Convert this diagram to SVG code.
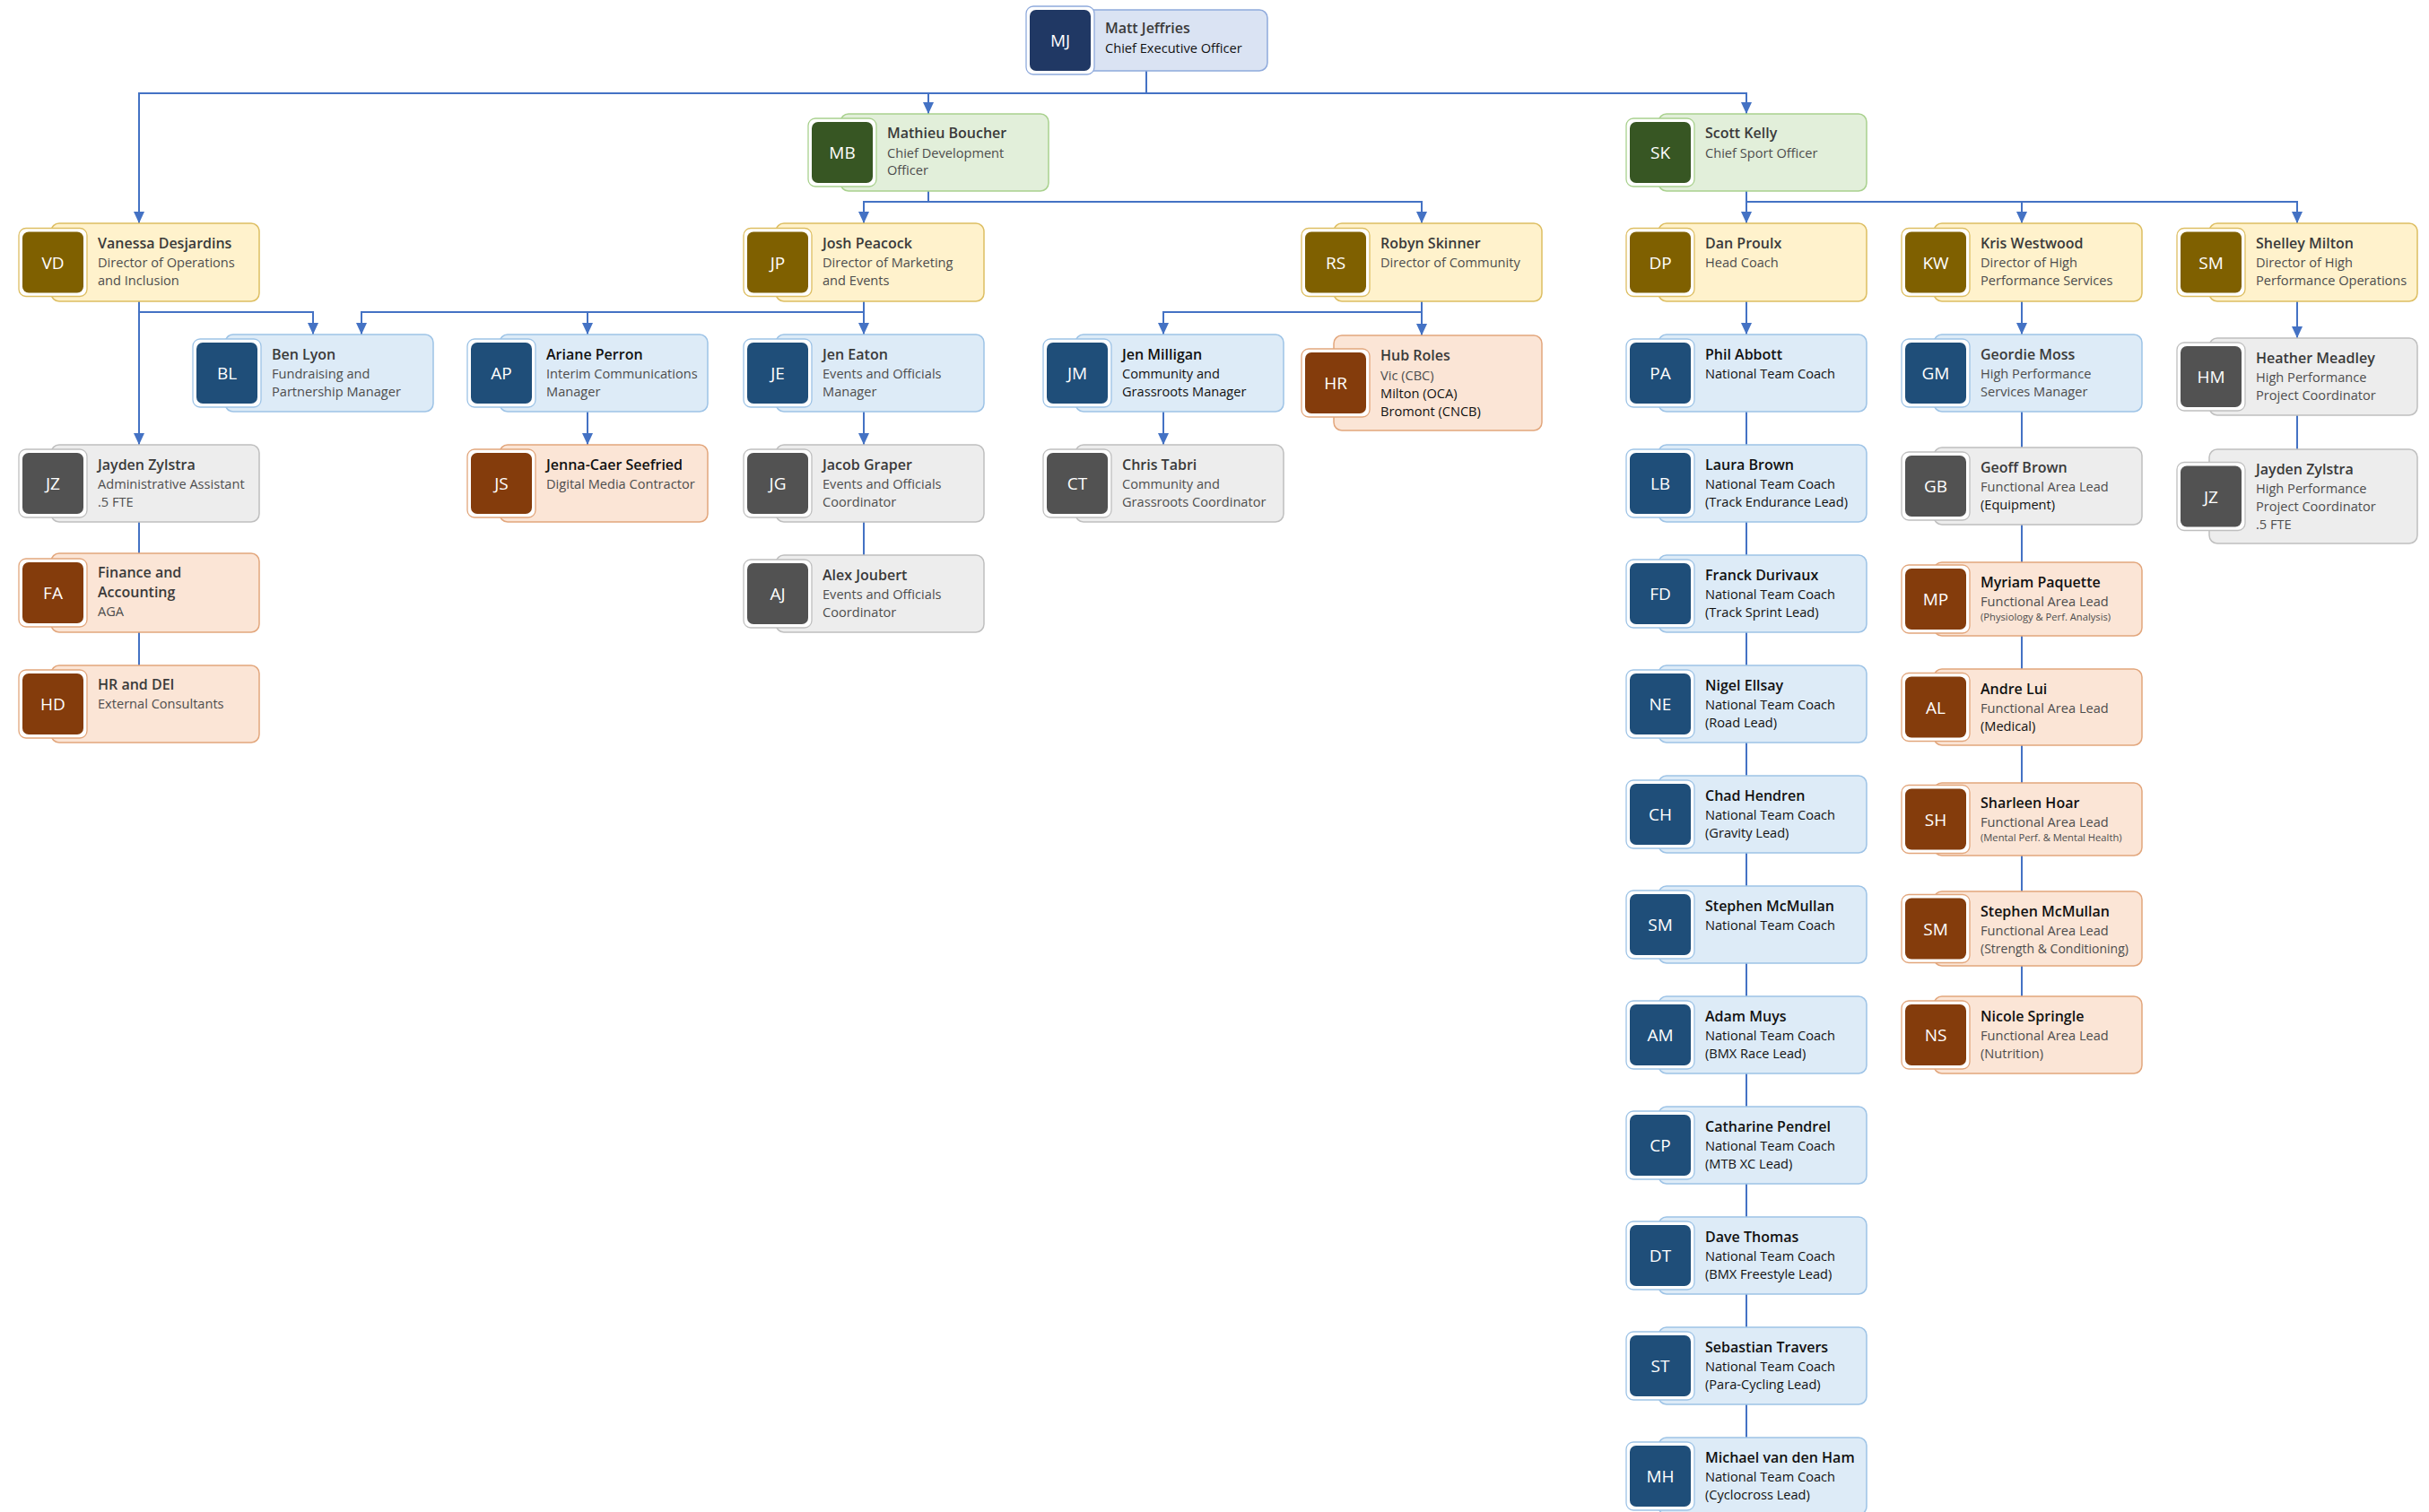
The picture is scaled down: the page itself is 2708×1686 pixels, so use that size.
<svg xmlns="http://www.w3.org/2000/svg" width="2708" height="1686" viewBox="0 0 2708 1686">
<style>
text{font-family:'Open Sans','Noto Sans','Liberation Sans',sans-serif}
.nm{font-size:16px;font-weight:600;fill:#3a3a3a}
.sb{font-size:14.6px;fill:#4d4d4d}
.sm{font-size:11.2px;fill:#4d4d4d}
.dk{fill:#111}
.in{font-size:19px;fill:#fff;text-anchor:middle}
.cd{stroke-width:1.5}
.fr{fill:#fff;stroke-width:1.3}
.ceo .cd{fill:#DAE3F3;stroke:#8FAADC}.ceo .fr{stroke:#8FAADC}.ceo .av{fill:#203864}
.grn .cd{fill:#E2EFDA;stroke:#A9D18E}.grn .fr{stroke:#A9D18E}.grn .av{fill:#375623}
.yel .cd{fill:#FFF2CC;stroke:#DDBE62}.yel .fr{stroke:#DDBE62}.yel .av{fill:#7F6000}
.blu .cd{fill:#DDEBF7;stroke:#9DC3E6}.blu .fr{stroke:#9DC3E6}.blu .av{fill:#1F4E79}
.gry .cd{fill:#EDEDED;stroke:#BFBFBF}.gry .fr{stroke:#BFBFBF}.gry .av{fill:#525252}
.org .cd{fill:#FBE5D6;stroke:#E2A67C}.org .fr{stroke:#E2A67C}.org .av{fill:#843C0C}
.cn{fill:none;stroke:#4472C4;stroke-width:2}
.ar{marker-end:url(#arr)}
</style>
<defs>
<marker id="arr" viewBox="0 0 13 12" refX="13" refY="6" markerWidth="13" markerHeight="12" markerUnits="userSpaceOnUse" orient="auto"><path d="M0,0 L13,6 L0,12 z" fill="#4472C4"/></marker>
</defs>
<rect width="2708" height="1686" fill="#fff"/>
<g id="connectors">
<path class="cn ar" d="M1278,79 V104 H155 V249"/>
<path class="cn ar" d="M1278,104 H1035 V127"/>
<path class="cn ar" d="M1278,104 H1947 V127"/>
<path class="cn ar" d="M1035,213 V225 H963 V249"/>
<path class="cn ar" d="M1035,225 H1585 V249"/>
<path class="cn ar" d="M1947,213 V249"/>
<path class="cn ar" d="M1947,225 H2254 V249"/>
<path class="cn ar" d="M1947,225 H2561 V249"/>
<path class="cn ar" d="M155,336 V496"/>
<path class="cn ar" d="M155,348 H349 V373"/>
<path class="cn ar" d="M963,336 V373"/>
<path class="cn ar" d="M963,348 H403 V373"/>
<path class="cn ar" d="M655,348 V373"/>
<path class="cn ar" d="M1585,336 V374"/>
<path class="cn ar" d="M1585,348 H1297 V373"/>
<path class="cn ar" d="M655,459 V496"/>
<path class="cn ar" d="M963,459 V496"/>
<path class="cn" d="M963,582 V619"/>
<path class="cn ar" d="M1297,459 V496"/>
<path class="cn" d="M155,582 V742"/>
<path class="cn ar" d="M1947,336 V373"/>
<path class="cn" d="M1947,459 V1603"/>
<path class="cn ar" d="M2254,336 V373"/>
<path class="cn" d="M2254,459 V1111"/>
<path class="cn ar" d="M2561,336 V377"/>
<path class="cn" d="M2561,463 V501"/>
</g>

<g id="n-mj" class="ceo" transform="translate(1144,11)">
<rect class="cd" x="36" y="0" width="233" height="68" rx="9"/>
<rect class="fr" x="0" y="-4" width="76" height="76" rx="8"/>
<rect class="av" x="4" y="0" width="68" height="68" rx="7"/>
<text class="in" x="38" y="41">MJ</text>
<text class="nm" x="88" y="26">Matt Jeffries</text>
<text class="sb dk" x="88" y="48">Chief Executive Officer</text>
</g>

<g id="n-mb" class="grn" transform="translate(901,127)">
<rect class="cd" x="36" y="0" width="232" height="86" rx="9"/>
<rect class="fr" x="0" y="5" width="76" height="76" rx="8"/>
<rect class="av" x="4" y="9" width="68" height="68" rx="7"/>
<text class="in" x="38" y="50">MB</text>
<text class="nm" x="88" y="27">Mathieu Boucher</text>
<text class="sb" x="88" y="49">Chief Development</text>
<text class="sb" x="88" y="68">Officer</text>
</g>

<g id="n-sk" class="grn" transform="translate(1813,127)">
<rect class="cd" x="36" y="0" width="232" height="86" rx="9"/>
<rect class="fr" x="0" y="5" width="76" height="76" rx="8"/>
<rect class="av" x="4" y="9" width="68" height="68" rx="7"/>
<text class="in" x="38" y="50">SK</text>
<text class="nm" x="88" y="27">Scott Kelly</text>
<text class="sb" x="88" y="49">Chief Sport Officer</text>
</g>

<g id="n-vd" class="yel" transform="translate(21,249)">
<rect class="cd" x="36" y="0" width="232" height="87" rx="9"/>
<rect class="fr" x="0" y="5.5" width="76" height="76" rx="8"/>
<rect class="av" x="4" y="9.5" width="68" height="68" rx="7"/>
<text class="in" x="38" y="50.5">VD</text>
<text class="nm" x="88" y="28">Vanessa Desjardins</text>
<text class="sb" x="88" y="49">Director of Operations</text>
<text class="sb" x="88" y="69">and Inclusion</text>
</g>

<g id="n-jp" class="yel" transform="translate(829,249)">
<rect class="cd" x="36" y="0" width="232" height="87" rx="9"/>
<rect class="fr" x="0" y="5.5" width="76" height="76" rx="8"/>
<rect class="av" x="4" y="9.5" width="68" height="68" rx="7"/>
<text class="in" x="38" y="50.5">JP</text>
<text class="nm" x="88" y="28">Josh Peacock</text>
<text class="sb" x="88" y="49">Director of Marketing</text>
<text class="sb" x="88" y="69">and Events</text>
</g>

<g id="n-rs" class="yel" transform="translate(1451,249)">
<rect class="cd" x="36" y="0" width="232" height="87" rx="9"/>
<rect class="fr" x="0" y="5.5" width="76" height="76" rx="8"/>
<rect class="av" x="4" y="9.5" width="68" height="68" rx="7"/>
<text class="in" x="38" y="50.5">RS</text>
<text class="nm" x="88" y="28">Robyn Skinner</text>
<text class="sb" x="88" y="49">Director of Community</text>
</g>

<g id="n-dp" class="yel" transform="translate(1813,249)">
<rect class="cd" x="36" y="0" width="232" height="87" rx="9"/>
<rect class="fr" x="0" y="5.5" width="76" height="76" rx="8"/>
<rect class="av" x="4" y="9.5" width="68" height="68" rx="7"/>
<text class="in" x="38" y="50.5">DP</text>
<text class="nm" x="88" y="28">Dan Proulx</text>
<text class="sb" x="88" y="49">Head Coach</text>
</g>

<g id="n-kw" class="yel" transform="translate(2120,249)">
<rect class="cd" x="36" y="0" width="232" height="87" rx="9"/>
<rect class="fr" x="0" y="5.5" width="76" height="76" rx="8"/>
<rect class="av" x="4" y="9.5" width="68" height="68" rx="7"/>
<text class="in" x="38" y="50.5">KW</text>
<text class="nm" x="88" y="28">Kris Westwood</text>
<text class="sb" x="88" y="49">Director of High</text>
<text class="sb" x="88" y="69">Performance Services</text>
</g>

<g id="n-sm-ops" class="yel" transform="translate(2427,249)">
<rect class="cd" x="36" y="0" width="232" height="87" rx="9"/>
<rect class="fr" x="0" y="5.5" width="76" height="76" rx="8"/>
<rect class="av" x="4" y="9.5" width="68" height="68" rx="7"/>
<text class="in" x="38" y="50.5">SM</text>
<text class="nm" x="88" y="28">Shelley Milton</text>
<text class="sb" x="88" y="49">Director of High</text>
<text class="sb" x="88" y="69">Performance Operations</text>
</g>

<g id="n-bl" class="blu" transform="translate(215,373)">
<rect class="cd" x="36" y="0" width="232" height="86" rx="9"/>
<rect class="fr" x="0" y="5" width="76" height="76" rx="8"/>
<rect class="av" x="4" y="9" width="68" height="68" rx="7"/>
<text class="in" x="38" y="50">BL</text>
<text class="nm" x="88" y="28">Ben Lyon</text>
<text class="sb" x="88" y="49">Fundraising and</text>
<text class="sb" x="88" y="69">Partnership Manager</text>
</g>

<g id="n-ap" class="blu" transform="translate(521,373)">
<rect class="cd" x="36" y="0" width="232" height="86" rx="9"/>
<rect class="fr" x="0" y="5" width="76" height="76" rx="8"/>
<rect class="av" x="4" y="9" width="68" height="68" rx="7"/>
<text class="in" x="38" y="50">AP</text>
<text class="nm dk" x="88" y="28">Ariane Perron</text>
<text class="sb" x="88" y="49">Interim Communications</text>
<text class="sb" x="88" y="69">Manager</text>
</g>

<g id="n-je" class="blu" transform="translate(829,373)">
<rect class="cd" x="36" y="0" width="232" height="86" rx="9"/>
<rect class="fr" x="0" y="5" width="76" height="76" rx="8"/>
<rect class="av" x="4" y="9" width="68" height="68" rx="7"/>
<text class="in" x="38" y="50">JE</text>
<text class="nm" x="88" y="28">Jen Eaton</text>
<text class="sb" x="88" y="49">Events and Officials</text>
<text class="sb" x="88" y="69">Manager</text>
</g>

<g id="n-jm" class="blu" transform="translate(1163,373)">
<rect class="cd" x="36" y="0" width="232" height="86" rx="9"/>
<rect class="fr" x="0" y="5" width="76" height="76" rx="8"/>
<rect class="av" x="4" y="9" width="68" height="68" rx="7"/>
<text class="in" x="38" y="50">JM</text>
<text class="nm dk" x="88" y="28">Jen Milligan</text>
<text class="sb dk" x="88" y="49">Community and</text>
<text class="sb dk" x="88" y="69">Grassroots Manager</text>
</g>

<g id="n-hr" class="org" transform="translate(1451,374)">
<rect class="cd" x="36" y="0" width="232" height="106" rx="9"/>
<rect class="fr" x="0" y="15" width="76" height="76" rx="8"/>
<rect class="av" x="4" y="19" width="68" height="68" rx="7"/>
<text class="in" x="38" y="60">HR</text>
<text class="nm" x="88" y="28">Hub Roles</text>
<text class="sb" x="88" y="50">Vic (CBC)</text>
<text class="sb dk" x="88" y="70">Milton (OCA)</text>
<text class="sb dk" x="88" y="90">Bromont (CNCB)</text>
</g>

<g id="n-pa" class="blu" transform="translate(1813,373)">
<rect class="cd" x="36" y="0" width="232" height="86" rx="9"/>
<rect class="fr" x="0" y="5" width="76" height="76" rx="8"/>
<rect class="av" x="4" y="9" width="68" height="68" rx="7"/>
<text class="in" x="38" y="50">PA</text>
<text class="nm dk" x="88" y="28">Phil Abbott</text>
<text class="sb dk" x="88" y="49">National Team Coach</text>
</g>

<g id="n-gm" class="blu" transform="translate(2120,373)">
<rect class="cd" x="36" y="0" width="232" height="86" rx="9"/>
<rect class="fr" x="0" y="5" width="76" height="76" rx="8"/>
<rect class="av" x="4" y="9" width="68" height="68" rx="7"/>
<text class="in" x="38" y="50">GM</text>
<text class="nm" x="88" y="28">Geordie Moss</text>
<text class="sb" x="88" y="49">High Performance</text>
<text class="sb" x="88" y="69">Services Manager</text>
</g>

<g id="n-hm" class="gry" transform="translate(2427,377)">
<rect class="cd" x="36" y="0" width="232" height="86" rx="9"/>
<rect class="fr" x="0" y="5" width="76" height="76" rx="8"/>
<rect class="av" x="4" y="9" width="68" height="68" rx="7"/>
<text class="in" x="38" y="50">HM</text>
<text class="nm" x="88" y="28">Heather Meadley</text>
<text class="sb" x="88" y="49">High Performance</text>
<text class="sb" x="88" y="69">Project Coordinator</text>
</g>

<g id="n-jz" class="gry" transform="translate(21,496)">
<rect class="cd" x="36" y="0" width="232" height="86" rx="9"/>
<rect class="fr" x="0" y="5" width="76" height="76" rx="8"/>
<rect class="av" x="4" y="9" width="68" height="68" rx="7"/>
<text class="in" x="38" y="50">JZ</text>
<text class="nm" x="88" y="28">Jayden Zylstra</text>
<text class="sb" x="88" y="49">Administrative Assistant</text>
<text class="sb" x="88" y="69">.5 FTE</text>
</g>

<g id="n-js" class="org" transform="translate(521,496)">
<rect class="cd" x="36" y="0" width="232" height="86" rx="9"/>
<rect class="fr" x="0" y="5" width="76" height="76" rx="8"/>
<rect class="av" x="4" y="9" width="68" height="68" rx="7"/>
<text class="in" x="38" y="50">JS</text>
<text class="nm dk" x="88" y="28">Jenna-Caer Seefried</text>
<text class="sb" x="88" y="49">Digital Media Contractor</text>
</g>

<g id="n-jg" class="gry" transform="translate(829,496)">
<rect class="cd" x="36" y="0" width="232" height="86" rx="9"/>
<rect class="fr" x="0" y="5" width="76" height="76" rx="8"/>
<rect class="av" x="4" y="9" width="68" height="68" rx="7"/>
<text class="in" x="38" y="50">JG</text>
<text class="nm" x="88" y="28">Jacob Graper</text>
<text class="sb" x="88" y="49">Events and Officials</text>
<text class="sb" x="88" y="69">Coordinator</text>
</g>

<g id="n-ct" class="gry" transform="translate(1163,496)">
<rect class="cd" x="36" y="0" width="232" height="86" rx="9"/>
<rect class="fr" x="0" y="5" width="76" height="76" rx="8"/>
<rect class="av" x="4" y="9" width="68" height="68" rx="7"/>
<text class="in" x="38" y="50">CT</text>
<text class="nm" x="88" y="28">Chris Tabri</text>
<text class="sb" x="88" y="49">Community and</text>
<text class="sb" x="88" y="69">Grassroots Coordinator</text>
</g>

<g id="n-lb" class="blu" transform="translate(1813,496)">
<rect class="cd" x="36" y="0" width="232" height="86" rx="9"/>
<rect class="fr" x="0" y="5" width="76" height="76" rx="8"/>
<rect class="av" x="4" y="9" width="68" height="68" rx="7"/>
<text class="in" x="38" y="50">LB</text>
<text class="nm dk" x="88" y="28">Laura Brown</text>
<text class="sb dk" x="88" y="49">National Team Coach</text>
<text class="sb dk" x="88" y="69">(Track Endurance Lead)</text>
</g>

<g id="n-gb" class="gry" transform="translate(2120,499)">
<rect class="cd" x="36" y="0" width="232" height="86" rx="9"/>
<rect class="fr" x="0" y="5" width="76" height="76" rx="8"/>
<rect class="av" x="4" y="9" width="68" height="68" rx="7"/>
<text class="in" x="38" y="50">GB</text>
<text class="nm" x="88" y="28">Geoff Brown</text>
<text class="sb" x="88" y="49">Functional Area Lead</text>
<text class="sb dk" x="88" y="69">(Equipment)</text>
</g>

<g id="n-jz2" class="gry" transform="translate(2427,501)">
<rect class="cd" x="36" y="0" width="232" height="105" rx="9"/>
<rect class="fr" x="0" y="14.5" width="76" height="76" rx="8"/>
<rect class="av" x="4" y="18.5" width="68" height="68" rx="7"/>
<text class="in" x="38" y="59.5">JZ</text>
<text class="nm" x="88" y="28">Jayden Zylstra</text>
<text class="sb" x="88" y="49">High Performance</text>
<text class="sb" x="88" y="69">Project Coordinator</text>
<text class="sb" x="88" y="89">.5 FTE</text>
</g>

<g id="n-fa" class="org" transform="translate(21,617)">
<rect class="cd" x="36" y="0" width="232" height="88" rx="9"/>
<rect class="fr" x="0" y="6" width="76" height="76" rx="8"/>
<rect class="av" x="4" y="10" width="68" height="68" rx="7"/>
<text class="in" x="38" y="51">FA</text>
<text class="nm" x="88" y="27">Finance and</text>
<text class="nm" x="88" y="49">Accounting</text>
<text class="sb" x="88" y="70">AGA</text>
</g>

<g id="n-aj" class="gry" transform="translate(829,619)">
<rect class="cd" x="36" y="0" width="232" height="86" rx="9"/>
<rect class="fr" x="0" y="5" width="76" height="76" rx="8"/>
<rect class="av" x="4" y="9" width="68" height="68" rx="7"/>
<text class="in" x="38" y="50">AJ</text>
<text class="nm" x="88" y="28">Alex Joubert</text>
<text class="sb" x="88" y="49">Events and Officials</text>
<text class="sb" x="88" y="69">Coordinator</text>
</g>

<g id="n-fd" class="blu" transform="translate(1813,619)">
<rect class="cd" x="36" y="0" width="232" height="86" rx="9"/>
<rect class="fr" x="0" y="5" width="76" height="76" rx="8"/>
<rect class="av" x="4" y="9" width="68" height="68" rx="7"/>
<text class="in" x="38" y="50">FD</text>
<text class="nm dk" x="88" y="28">Franck Durivaux</text>
<text class="sb dk" x="88" y="49">National Team Coach</text>
<text class="sb dk" x="88" y="69">(Track Sprint Lead)</text>
</g>

<g id="n-mp" class="org" transform="translate(2120,627)">
<rect class="cd" x="36" y="0" width="232" height="82" rx="9"/>
<rect class="fr" x="0" y="3" width="76" height="76" rx="8"/>
<rect class="av" x="4" y="7" width="68" height="68" rx="7"/>
<text class="in" x="38" y="48">MP</text>
<text class="nm dk" x="88" y="28">Myriam Paquette</text>
<text class="sb" x="88" y="49">Functional Area Lead</text>
<text class="sm" x="88" y="65">(Physiology &amp; Perf. Analysis)</text>
</g>

<g id="n-hd" class="org" transform="translate(21,742)">
<rect class="cd" x="36" y="0" width="232" height="86" rx="9"/>
<rect class="fr" x="0" y="5" width="76" height="76" rx="8"/>
<rect class="av" x="4" y="9" width="68" height="68" rx="7"/>
<text class="in" x="38" y="50">HD</text>
<text class="nm" x="88" y="27">HR and DEI</text>
<text class="sb" x="88" y="48">External Consultants</text>
</g>

<g id="n-ne" class="blu" transform="translate(1813,742)">
<rect class="cd" x="36" y="0" width="232" height="86" rx="9"/>
<rect class="fr" x="0" y="5" width="76" height="76" rx="8"/>
<rect class="av" x="4" y="9" width="68" height="68" rx="7"/>
<text class="in" x="38" y="50">NE</text>
<text class="nm dk" x="88" y="28">Nigel Ellsay</text>
<text class="sb dk" x="88" y="49">National Team Coach</text>
<text class="sb dk" x="88" y="69">(Road Lead)</text>
</g>

<g id="n-al" class="org" transform="translate(2120,746)">
<rect class="cd" x="36" y="0" width="232" height="85" rx="9"/>
<rect class="fr" x="0" y="4.5" width="76" height="76" rx="8"/>
<rect class="av" x="4" y="8.5" width="68" height="68" rx="7"/>
<text class="in" x="38" y="49.5">AL</text>
<text class="nm dk" x="88" y="28">Andre Lui</text>
<text class="sb" x="88" y="49">Functional Area Lead</text>
<text class="sb dk" x="88" y="69">(Medical)</text>
</g>

<g id="n-ch" class="blu" transform="translate(1813,865)">
<rect class="cd" x="36" y="0" width="232" height="86" rx="9"/>
<rect class="fr" x="0" y="5" width="76" height="76" rx="8"/>
<rect class="av" x="4" y="9" width="68" height="68" rx="7"/>
<text class="in" x="38" y="50">CH</text>
<text class="nm dk" x="88" y="28">Chad Hendren</text>
<text class="sb dk" x="88" y="49">National Team Coach</text>
<text class="sb dk" x="88" y="69">(Gravity Lead)</text>
</g>

<g id="n-sh" class="org" transform="translate(2120,873)">
<rect class="cd" x="36" y="0" width="232" height="81" rx="9"/>
<rect class="fr" x="0" y="2.5" width="76" height="76" rx="8"/>
<rect class="av" x="4" y="6.5" width="68" height="68" rx="7"/>
<text class="in" x="38" y="47.5">SH</text>
<text class="nm dk" x="88" y="28">Sharleen Hoar</text>
<text class="sb" x="88" y="49">Functional Area Lead</text>
<text class="sm" x="88" y="65">(Mental Perf. &amp; Mental Health)</text>
</g>

<g id="n-smc" class="blu" transform="translate(1813,988)">
<rect class="cd" x="36" y="0" width="232" height="86" rx="9"/>
<rect class="fr" x="0" y="5" width="76" height="76" rx="8"/>
<rect class="av" x="4" y="9" width="68" height="68" rx="7"/>
<text class="in" x="38" y="50">SM</text>
<text class="nm dk" x="88" y="28">Stephen McMullan</text>
<text class="sb dk" x="88" y="49">National Team Coach</text>
</g>

<g id="n-sm2" class="org" transform="translate(2120,994)">
<rect class="cd" x="36" y="0" width="232" height="83" rx="9"/>
<rect class="fr" x="0" y="3.5" width="76" height="76" rx="8"/>
<rect class="av" x="4" y="7.5" width="68" height="68" rx="7"/>
<text class="in" x="38" y="48.5">SM</text>
<text class="nm dk" x="88" y="28">Stephen McMullan</text>
<text class="sb" x="88" y="49">Functional Area Lead</text>
<text class="sb" x="88" y="69" style="font-size:14px">(Strength &amp; Conditioning)</text>
</g>

<g id="n-am" class="blu" transform="translate(1813,1111)">
<rect class="cd" x="36" y="0" width="232" height="86" rx="9"/>
<rect class="fr" x="0" y="5" width="76" height="76" rx="8"/>
<rect class="av" x="4" y="9" width="68" height="68" rx="7"/>
<text class="in" x="38" y="50">AM</text>
<text class="nm dk" x="88" y="28">Adam Muys</text>
<text class="sb dk" x="88" y="49">National Team Coach</text>
<text class="sb dk" x="88" y="69">(BMX Race Lead)</text>
</g>

<g id="n-ns" class="org" transform="translate(2120,1111)">
<rect class="cd" x="36" y="0" width="232" height="86" rx="9"/>
<rect class="fr" x="0" y="5" width="76" height="76" rx="8"/>
<rect class="av" x="4" y="9" width="68" height="68" rx="7"/>
<text class="in" x="38" y="50">NS</text>
<text class="nm dk" x="88" y="28">Nicole Springle</text>
<text class="sb" x="88" y="49">Functional Area Lead</text>
<text class="sb" x="88" y="69">(Nutrition)</text>
</g>

<g id="n-cp" class="blu" transform="translate(1813,1234)">
<rect class="cd" x="36" y="0" width="232" height="86" rx="9"/>
<rect class="fr" x="0" y="5" width="76" height="76" rx="8"/>
<rect class="av" x="4" y="9" width="68" height="68" rx="7"/>
<text class="in" x="38" y="50">CP</text>
<text class="nm dk" x="88" y="28">Catharine Pendrel</text>
<text class="sb dk" x="88" y="49">National Team Coach</text>
<text class="sb dk" x="88" y="69">(MTB XC Lead)</text>
</g>

<g id="n-dt" class="blu" transform="translate(1813,1357)">
<rect class="cd" x="36" y="0" width="232" height="86" rx="9"/>
<rect class="fr" x="0" y="5" width="76" height="76" rx="8"/>
<rect class="av" x="4" y="9" width="68" height="68" rx="7"/>
<text class="in" x="38" y="50">DT</text>
<text class="nm dk" x="88" y="28">Dave Thomas</text>
<text class="sb dk" x="88" y="49">National Team Coach</text>
<text class="sb dk" x="88" y="69">(BMX Freestyle Lead)</text>
</g>

<g id="n-st" class="blu" transform="translate(1813,1480)">
<rect class="cd" x="36" y="0" width="232" height="86" rx="9"/>
<rect class="fr" x="0" y="5" width="76" height="76" rx="8"/>
<rect class="av" x="4" y="9" width="68" height="68" rx="7"/>
<text class="in" x="38" y="50">ST</text>
<text class="nm dk" x="88" y="28">Sebastian Travers</text>
<text class="sb dk" x="88" y="49">National Team Coach</text>
<text class="sb dk" x="88" y="69">(Para-Cycling Lead)</text>
</g>

<g id="n-mh" class="blu" transform="translate(1813,1603)">
<rect class="cd" x="36" y="0" width="232" height="86" rx="9"/>
<rect class="fr" x="0" y="5" width="76" height="76" rx="8"/>
<rect class="av" x="4" y="9" width="68" height="68" rx="7"/>
<text class="in" x="38" y="50">MH</text>
<text class="nm dk" x="88" y="28">Michael van den Ham</text>
<text class="sb dk" x="88" y="49">National Team Coach</text>
<text class="sb dk" x="88" y="69">(Cyclocross Lead)</text>
</g>
</svg>
